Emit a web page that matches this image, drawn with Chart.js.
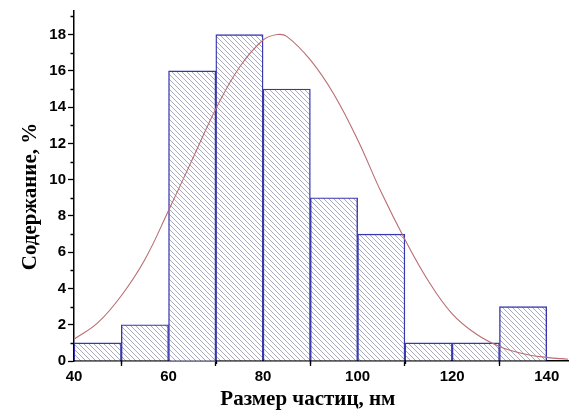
<!DOCTYPE html>
<html>
<head>
<meta charset="utf-8">
<script src="https://cdn.jsdelivr.net/npm/chart.js@4"></script>
<style>
  body { margin: 0; background: #fff; }
</style>
</head>
<body>
<canvas id="histChart" width="571" height="416"></canvas>
<script>
// bin centres (nm) and content (%) of each 10 nm bin
const binCenters = [45, 55, 65, 75, 85, 95, 105, 115, 125, 135];
const binValues = [1, 2, 16, 18, 15, 9, 7, 1, 1, 3];

// fitted curve
const curveX = [40, 45, 50, 55, 60, 65, 70, 75, 80, 83, 85, 90, 95, 100, 105, 110, 115, 120, 125, 130, 135, 140, 144.5];
const curveY = [1.2, 2.1, 3.6, 5.6, 8.3, 11.1, 13.9, 16.2, 17.7, 18.0, 17.9, 16.6, 14.7, 12.2, 9.3, 6.7, 4.4, 2.6, 1.5, 0.8, 0.4, 0.2, 0.1];

const xMajor = [40, 60, 80, 100, 120, 140];
const xMinor = [50, 70, 90, 110, 130];
const yMajor = [0, 2, 4, 6, 8, 10, 12, 14, 16, 18];
const yMinor = [1, 3, 5, 7, 9, 11, 13, 15, 17, 19];

function hatch() {
    const s = 5;
    const c = document.createElement('canvas');
    c.width = s; c.height = s;
    const g = c.getContext('2d');
    g.fillStyle = '#fff';
    g.fillRect(0, 0, s, s);
    g.strokeStyle = 'rgba(95, 95, 135, 0.6)';
    g.lineWidth = 0.9;
    g.beginPath();
    g.moveTo(-1, -1); g.lineTo(s + 1, s + 1);
    g.moveTo(-1, s - 1); g.lineTo(1, s + 1);
    g.moveTo(s - 1, -1); g.lineTo(s + 1, 1);
    g.stroke();
    return g.createPattern(c, 'repeat');
}

// short minor ticks
const minorTicks = {
    id: 'minorTicks',
    afterDraw(chart) {
        const ctx = chart.ctx;
        const xs = chart.scales.x, ys = chart.scales.y;
        ctx.save();
        ctx.strokeStyle = '#000';
        ctx.lineWidth = 1.3;
        ctx.beginPath();
        yMinor.forEach(v => {
            const p = Math.round(ys.getPixelForValue(v)) + 0.5;
            ctx.moveTo(xs.left - 3.5, p);
            ctx.lineTo(xs.left, p);
        });
        xMinor.forEach(v => {
            const p = Math.round(xs.getPixelForValue(v)) + 0.5;
            ctx.moveTo(p, ys.bottom);
            ctx.lineTo(p, ys.bottom + 3);
        });
        ctx.stroke();
        ctx.restore();
    }
};

const tickFont = { family: 'Liberation Sans', size: 15, weight: 'bold' };
const titleFont = { family: 'Liberation Serif', size: 21, weight: 'bold' };

const ctx = document.getElementById('histChart').getContext('2d');
const myChart = new Chart(ctx, {
    type: 'bar',
    data: {
        datasets: [{
            type: 'line',
            data: curveX.map((x, i) => ({ x: x, y: curveY[i] })),
            borderColor: 'rgba(185, 110, 115, 1)',
            borderWidth: 1.1,
            pointRadius: 0,
            tension: 0.4,
            fill: false,
            order: 0
        }, {
            type: 'bar',
            data: binCenters.map((x, i) => ({ x: x, y: binValues[i] })),
            backgroundColor: hatch(),
            borderColor: 'rgba(55, 55, 175, 1)',
            borderWidth: 1.4,
            barPercentage: 1,
            categoryPercentage: 1,
            order: 1
        }]
    },
    options: {
        responsive: false,
        animation: false,
        layout: { padding: { top: 10, right: 3, left: 0, bottom: 0 } },
        plugins: { legend: { display: false }, tooltip: { enabled: false } },
        scales: {
            x: {
                type: 'linear',
                offset: false,
                min: 40,
                max: 144.5,
                afterBuildTicks: s => { s.ticks = xMajor.map(v => ({ value: v })); },
                afterFit: s => { s.height = 55; },
                ticks: { font: tickFont, color: '#000', padding: 2, autoSkip: false, maxRotation: 0 },
                grid: { drawOnChartArea: false, tickLength: 5, tickColor: '#000', tickWidth: 1.3 },
                border: { color: '#000', width: 1.5 },
                title: { display: true, text: 'Размер частиц, нм\u00a0\u00a0\u00a0\u00a0\u00a0', font: titleFont, color: '#000', padding: 4 }
            },
            y: {
                min: 0,
                max: 19.3,
                afterBuildTicks: s => { s.ticks = yMajor.map(v => ({ value: v })); },
                afterFit: s => { s.width = 74; },
                ticks: { font: tickFont, color: '#000', padding: 2 },
                grid: { drawOnChartArea: false, tickLength: 6, tickColor: '#000', tickWidth: 1.3 },
                border: { color: '#000', width: 1.5 },
                title: { display: true, text: 'Содержание, %\u00a0\u00a0\u00a0\u00a0', font: titleFont, color: '#000', padding: 18 }
            }
        }
    },
    plugins: [minorTicks]
});
</script>
</body>
</html>
